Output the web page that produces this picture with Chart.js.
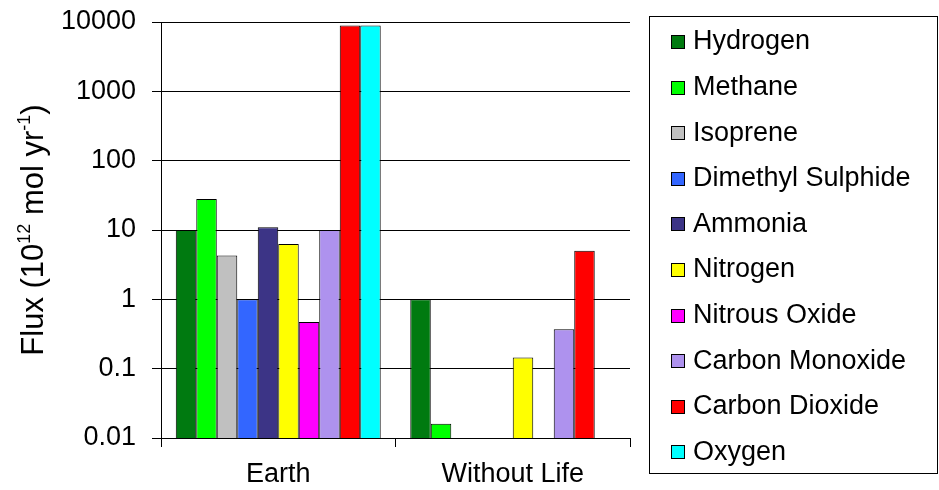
<!DOCTYPE html>
<html>
<head>
<meta charset="utf-8">
<title>Flux</title>
<script src="https://cdn.jsdelivr.net/npm/chart.js@4.4.1/dist/chart.umd.min.js"></script>
<style>
  html, body { margin: 0; padding: 0; background: #fff; }
  #wrap { width: 939px; height: 490px; }
</style>
</head>
<body>
<div id="wrap"><canvas id="fluxChart" width="939" height="490"></canvas></div>
<script>
// data
const categories = ['Earth', 'Without Life'];
const gases = ['Hydrogen', 'Methane', 'Isoprene', 'Dimethyl Sulphide', 'Ammonia',
    'Nitrogen', 'Nitrous Oxide', 'Carbon Monoxide', 'Carbon Dioxide', 'Oxygen'];
const earthFlux = [10, 28, 4.3, 1, 11, 6.3, 0.47, 10, 8900, 8900];
const lifelessFlux = [1, 0.016, null, null, null, 0.145, null, 0.37, 5, null];
const yTicks = [0.01, 0.1, 1, 10, 100, 1000, 10000];
const yTickLabels = ['0.01', '0.1', '1', '10', '100', '1000', '10000'];

const gasColors = ['#007a10', '#00ff00', '#c0c0c0', '#3366ff', '#3c3486',
    '#ffff00', '#ff00ff', '#ae92ee', '#ff0000', '#00ffff'];

const FONT = 'Liberation Sans, Arial, sans-serif';

// y title with superscripts, drawn by hand
const yTitle = {
    id: 'yTitle',
    afterDraw(chart) {
        const ctx = chart.ctx;
        const area = chart.chartArea;
        const parts = [
            ['Flux (10', 31, 0], ['12', 18, -13], [' mol yr', 31, 0], ['-1', 18, -13], [')', 31, 0]
        ];
        ctx.save();
        let total = 0;
        parts.forEach(p => {
            ctx.font = p[1] + 'px ' + FONT;
            total += ctx.measureText(p[0]).width;
        });
        ctx.translate(43, (area.top + area.bottom) / 2);
        ctx.rotate(-Math.PI / 2);
        ctx.fillStyle = '#000';
        ctx.textBaseline = 'alphabetic';
        let x = -total / 2;
        parts.forEach(p => {
            ctx.font = p[1] + 'px ' + FONT;
            ctx.fillText(p[0], x, p[2]);
            x += ctx.measureText(p[0]).width;
        });
        ctx.restore();
    }
};

// boxed legend on the right
const boxLegend = {
    id: 'boxLegend',
    afterDraw(chart) {
        const ctx = chart.ctx;
        ctx.save();
        ctx.strokeStyle = '#000';
        ctx.lineWidth = 1;
        ctx.strokeRect(649.5, 16.5, 288, 457);
        ctx.font = '27px ' + FONT;
        ctx.textBaseline = 'middle';
        chart.data.datasets.forEach((ds, i) => {
            const cy = 42 + i * 45.6;
            ctx.fillStyle = ds.backgroundColor;
            ctx.fillRect(671, Math.round(cy - 7), 14, 14);
            ctx.strokeRect(671.5, Math.round(cy - 7) + 0.5, 13, 13);
            ctx.fillStyle = '#000';
            ctx.fillText(ds.label, 693, cy);
        });
        ctx.restore();
    }
};

new Chart(document.getElementById('fluxChart').getContext('2d'), {
    type: 'bar',
    data: {
        labels: categories,
        datasets: gases.map((g, i) => ({
            label: g,
            data: [earthFlux[i], lifelessFlux[i]],
            backgroundColor: gasColors[i],
            borderColor: '#000',
            borderWidth: 1
        }))
    },
    options: {
        responsive: false,
        animation: false,
        devicePixelRatio: 1,
        layout: { padding: { left: 0, top: 22, right: 309, bottom: 0 } },
        categoryPercentage: 0.874,
        barPercentage: 1,
        plugins: {
            legend: { display: false },
            tooltip: { enabled: false }
        },
        scales: {
            x: {
                offset: true,
                grid: { offset: true, drawOnChartArea: false, drawTicks: true, tickLength: 9, color: '#000' },
                border: { color: '#000' },
                ticks: { color: '#000', font: { family: FONT, size: 27 }, padding: 11 },
                afterFit(scale) {
                    scale.height = 52;
                    scale.paddingLeft = 0;
                    scale.paddingRight = 0;
                }
            },
            y: {
                type: 'logarithmic',
                min: 0.01,
                max: 10000,
                afterBuildTicks(scale) {
                    scale.ticks = yTicks.map(v => ({ value: v }));
                },
                grid: { color: '#000', tickLength: 9 },
                border: { color: '#000' },
                ticks: {
                    color: '#000',
                    font: { family: FONT, size: 27 },
                    padding: 16,
                    callback: (v, i) => yTickLabels[i]
                },
                afterFit(scale) {
                    scale.width = 161;
                    scale.paddingTop = 0;
                    scale.paddingBottom = 0;
                }
            }
        }
    },
    plugins: [yTitle, boxLegend]
});
</script>
</body>
</html>
